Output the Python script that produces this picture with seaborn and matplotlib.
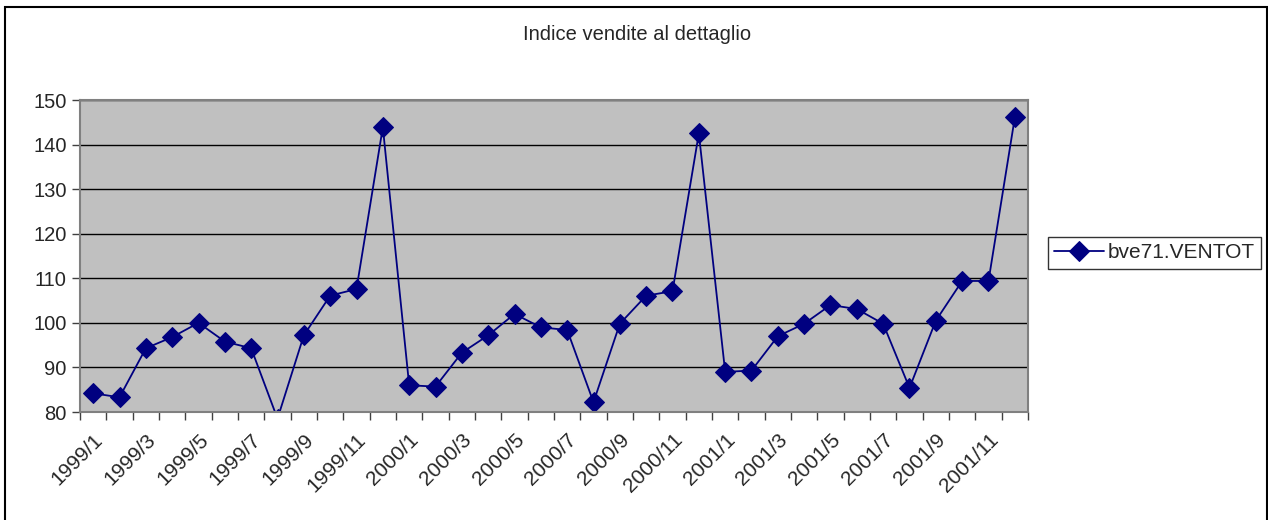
import numpy as np
import pandas as pd
import matplotlib
matplotlib.use('Agg')
import matplotlib.pyplot as plt
import matplotlib.transforms as mtransforms
import seaborn as sns

sns.set_style('white')
plt.rcParams['font.family'] = ['Liberation Sans', 'DejaVu Sans']

months = [f'{y}/{m}' for y in (1999, 2000, 2001) for m in range(1, 13)]
values = [84.2, 83.3, 94.3, 96.8, 100.0, 95.8, 94.3, 78.5, 97.2, 106.1, 107.6, 143.9,
          86.0, 85.7, 93.3, 97.2, 102.0, 99.0, 98.4, 82.2, 99.8, 106.1, 107.1, 142.5,
          89.0, 89.3, 97.0, 99.8, 104.0, 103.1, 99.8, 85.4, 100.5, 109.4, 109.4, 146.1]
series_name = 'bve71.VENTOT'
title = 'Indice vendite al dettaglio'

df = pd.DataFrame({'idx': np.arange(len(months)), 'value': values, 'serie': series_name})

W, H = 1268, 520
fig = plt.figure(figsize=(W / 100, H / 100), dpi=100)
ax = fig.add_axes([80 / W, 1 - 412 / H, (1028 - 80) / W, (412 - 100) / H])

sns.lineplot(data=df, x='idx', y='value', hue='serie', palette=['#000080'],
             marker='D', markersize=10, markeredgecolor='#000080',
             linewidth=1.3, ax=ax)

ax.set_facecolor('#C0C0C0')
for s in ax.spines.values():
    s.set_color('#808080')
    s.set_linewidth(1.5)

ax.set_xlim(-0.5, len(months) - 0.5)
ax.set_ylim(80, 150)
ax.set_yticks(range(80, 151, 10))
ax.grid(axis='y', color='black', linewidth=1)
ax.set_axisbelow(True)

ax.set_xticks(np.arange(-0.5, len(months), 1), minor=True)
ax.set_xticks(np.arange(0, len(months), 2))
ax.set_xticklabels(months[::2], rotation=45, ha='right', va='top', rotation_mode='anchor')
# nudge the slanted labels a little to the left, like the original
shift = mtransforms.ScaledTranslation(-12 / 100, 0, fig.dpi_scale_trans)
for lab in ax.get_xticklabels():
    lab.set_transform(lab.get_transform() + shift)
ax.tick_params(axis='x', which='major', length=0, pad=13, labelsize=15)
ax.tick_params(axis='x', which='minor', length=6, width=1, color='#404040', direction='out', bottom=True)
ax.tick_params(axis='y', length=6, width=1, color='#404040', direction='out', left=True, labelsize=14.5)
ax.set_xlabel('')
ax.set_ylabel('')

fig.text(637 / W, 1 - 35 / H, title, ha='center', va='center', fontsize=14.5)

leg = ax.legend(loc='center left', bbox_to_anchor=(1048 / W, 1 - 253 / H),
                bbox_transform=fig.transFigure, fontsize=15, frameon=True,
                fancybox=False, edgecolor='black', handlelength=2.4,
                handletextpad=0.15, borderpad=0.3, borderaxespad=0)
leg.get_frame().set_linewidth(1)

fig.patches.append(plt.Rectangle((5 / W, -0.05), 1262 / W, 1.05 - 7 / H,
                                 transform=fig.transFigure, fill=False,
                                 edgecolor='black', linewidth=1.5))

fig.savefig('out.png', dpi=100)
